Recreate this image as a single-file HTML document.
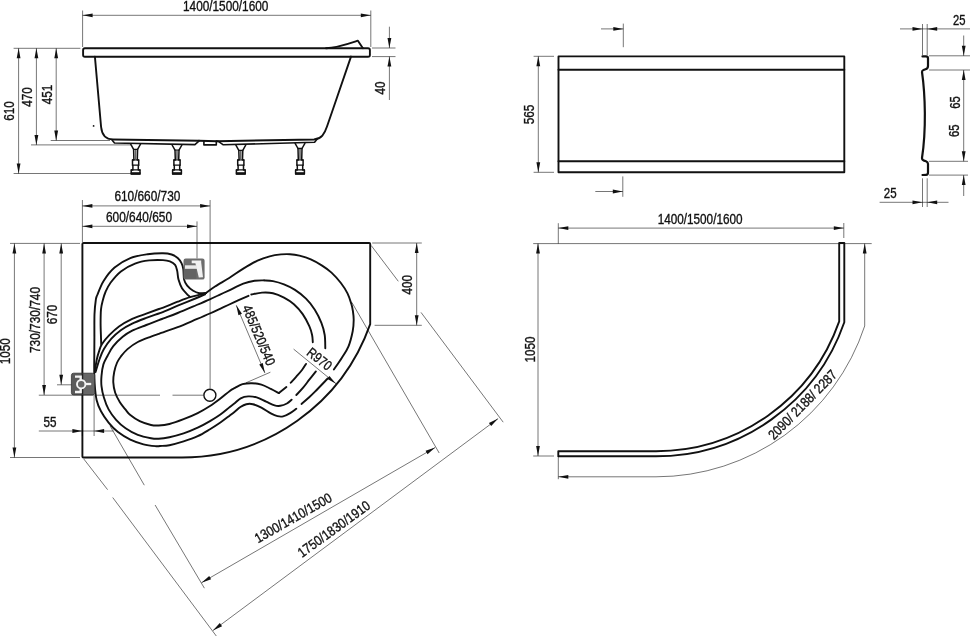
<!DOCTYPE html>
<html><head><meta charset="utf-8"><title>Bath drawing</title>
<style>
html,body{margin:0;padding:0;background:#fff;}
body{width:970px;height:636px;overflow:hidden;}
svg{display:block;filter:grayscale(1);font-family:"Liberation Sans",sans-serif;fill:#111;}
</style></head><body>
<svg width="970" height="636" viewBox="0 0 970 636">
<rect x="0" y="0" width="970" height="636" fill="#fff"/>
<line x1="82.60" y1="10.50" x2="82.60" y2="47.00" stroke="#000" stroke-opacity="0.68" stroke-width="0.8" fill="none"/>
<line x1="370.80" y1="10.50" x2="370.80" y2="47.00" stroke="#000" stroke-opacity="0.68" stroke-width="0.8" fill="none"/>
<line x1="82.60" y1="15.30" x2="370.80" y2="15.30" stroke="#000" stroke-opacity="0.68" stroke-width="0.8" fill="none"/>
<polygon points="82.60,15.30 92.60,13.40 92.60,17.20" fill="#111"/>
<polygon points="370.80,15.30 360.80,17.20 360.80,13.40" fill="#111"/>
<text x="183.00" y="10.90" font-size="13.9" stroke="#111" stroke-width="0.35" text-anchor="start" textLength="85.4" lengthAdjust="spacingAndGlyphs">1400/1500/1600</text>
<line x1="13.60" y1="48.30" x2="80.40" y2="48.30" stroke="#000" stroke-opacity="0.68" stroke-width="0.8" fill="none"/>
<line x1="50.70" y1="140.50" x2="110.00" y2="140.50" stroke="#000" stroke-opacity="0.68" stroke-width="0.8" fill="none"/>
<line x1="31.00" y1="144.90" x2="131.00" y2="144.90" stroke="#000" stroke-opacity="0.68" stroke-width="0.8" fill="none"/>
<line x1="13.60" y1="173.50" x2="131.00" y2="173.50" stroke="#000" stroke-opacity="0.68" stroke-width="0.8" fill="none"/>
<line x1="18.60" y1="48.30" x2="18.60" y2="173.50" stroke="#000" stroke-opacity="0.68" stroke-width="0.8" fill="none"/>
<polygon points="18.60,48.30 20.50,58.30 16.70,58.30" fill="#111"/>
<polygon points="18.60,173.50 16.70,163.50 20.50,163.50" fill="#111"/>
<line x1="36.40" y1="48.30" x2="36.40" y2="144.90" stroke="#000" stroke-opacity="0.68" stroke-width="0.8" fill="none"/>
<polygon points="36.40,48.30 38.30,58.30 34.50,58.30" fill="#111"/>
<polygon points="36.40,144.90 34.50,134.90 38.30,134.90" fill="#111"/>
<line x1="56.20" y1="48.30" x2="56.20" y2="140.50" stroke="#000" stroke-opacity="0.68" stroke-width="0.8" fill="none"/>
<polygon points="56.20,48.30 58.10,58.30 54.30,58.30" fill="#111"/>
<polygon points="56.20,140.50 54.30,130.50 58.10,130.50" fill="#111"/>
<text x="14.30" y="111.00" font-size="13.9" stroke="#111" stroke-width="0.35" text-anchor="middle" textLength="19.5" lengthAdjust="spacingAndGlyphs" transform="rotate(-90.00 14.30 111.00)">610</text>
<text x="32.00" y="97.00" font-size="13.9" stroke="#111" stroke-width="0.35" text-anchor="middle" textLength="19.5" lengthAdjust="spacingAndGlyphs" transform="rotate(-90.00 32.00 97.00)">470</text>
<text x="52.30" y="94.50" font-size="13.9" stroke="#111" stroke-width="0.35" text-anchor="middle" textLength="19.5" lengthAdjust="spacingAndGlyphs" transform="rotate(-90.00 52.30 94.50)">451</text>
<line x1="372.00" y1="48.00" x2="395.50" y2="48.00" stroke="#000" stroke-opacity="0.68" stroke-width="0.8" fill="none"/>
<line x1="372.00" y1="56.60" x2="395.50" y2="56.60" stroke="#000" stroke-opacity="0.68" stroke-width="0.8" fill="none"/>
<line x1="389.40" y1="26.70" x2="389.40" y2="48.00" stroke="#000" stroke-opacity="0.68" stroke-width="0.8" fill="none"/>
<polygon points="389.40,48.00 387.50,38.00 391.30,38.00" fill="#111"/>
<line x1="389.40" y1="56.60" x2="389.40" y2="100.00" stroke="#000" stroke-opacity="0.68" stroke-width="0.8" fill="none"/>
<polygon points="389.40,56.60 391.30,66.60 387.50,66.60" fill="#111"/>
<text x="384.80" y="88.00" font-size="13.9" stroke="#111" stroke-width="0.35" text-anchor="middle" textLength="13.0" lengthAdjust="spacingAndGlyphs" transform="rotate(-90.00 384.80 88.00)">40</text>
<path d="M84.9 48.2 L326 48.2 C336 48.2 345 45 357.9 40.7 L362.9 48.2 L368 48.2 Q369.9 48.2 369.9 50 L369.9 54.9 Q369.9 56.7 368 56.7 L84.9 56.7 Q83.1 56.7 83.1 54.9 L83.1 50 Q83.1 48.2 84.9 48.2 Z" stroke="#111" stroke-width="1.9" fill="none" stroke-linecap="round" stroke-linejoin="round" />
<path d="M326 48.2 L362.9 48.2" stroke="#111" stroke-width="1.9" fill="none" stroke-linecap="round" stroke-linejoin="round" />
<path d="M94.9 56.6 L101.1 127 C101.8 134 105 139.3 113 139.5 L199 140.7" stroke="#111" stroke-width="1.9" fill="none" stroke-linecap="round" stroke-linejoin="round" />
<path d="M351 56.6 L332.7 110 L327 126.5 C324.5 134 321.5 138.8 314 139.5 L217.2 141.2" stroke="#111" stroke-width="1.9" fill="none" stroke-linecap="round" stroke-linejoin="round" />
<path d="M199 140.7 L217.2 141.2" stroke="#111" stroke-width="1.9" fill="none" stroke-linecap="round" stroke-linejoin="round" />
<path d="M112.2 140.2 L114.5 143 L194.9 144.6 L198.6 141.3" stroke="#111" stroke-width="1.6" fill="none" stroke-linecap="round" stroke-linejoin="round" />
<path d="M218.4 141.4 L223.3 144.8 L314.6 142.2 L317.2 139" stroke="#111" stroke-width="1.6" fill="none" stroke-linecap="round" stroke-linejoin="round" />
<path d="M203.9 141 V144.9 H216.3 V141" stroke="#111" stroke-width="1.6" fill="none" stroke-linecap="round" stroke-linejoin="round" />
<circle cx="93.6" cy="125.9" r="0.9" fill="#111"/>
<path d="M130.7 144.2 L133.6 149.4 L133.9 159.9 L132.5 159.9 L132.5 165.2 L132.9 165.2 L132.9 169.9 L131.2 169.9 L131.2 174.0 L140.0 174.0 L140.0 169.9 L138.3 169.9 L138.3 165.2 L138.7 165.2 L138.7 159.9 L137.3 159.9 L137.6 149.4 L140.5 144.2" stroke="#111" stroke-width="1.5" fill="none" stroke-linecap="round" stroke-linejoin="round" />
<path d="M133.6 149.4 H137.6 M132.5 159.9 H138.7 M132.5 165.2 H138.7 M131.2 169.9 H140.0" stroke="#111" stroke-width="1.3" fill="none" stroke-linecap="round" stroke-linejoin="round" />
<line x1="135.6" y1="150.0" x2="135.6" y2="159.5" stroke="#666" stroke-width="1.6"/>
<rect x="130.7" y="172.2" width="9.8" height="2.4" fill="#111"/>
<path d="M172.1 145.0 L175.0 150.2 L175.3 159.9 L173.9 159.9 L173.9 165.2 L174.3 165.2 L174.3 169.9 L172.6 169.9 L172.6 174.0 L181.4 174.0 L181.4 169.9 L179.7 169.9 L179.7 165.2 L180.1 165.2 L180.1 159.9 L178.7 159.9 L179.0 150.2 L181.9 145.0" stroke="#111" stroke-width="1.5" fill="none" stroke-linecap="round" stroke-linejoin="round" />
<path d="M175.0 150.2 H179.0 M173.9 159.9 H180.1 M173.9 165.2 H180.1 M172.6 169.9 H181.4" stroke="#111" stroke-width="1.3" fill="none" stroke-linecap="round" stroke-linejoin="round" />
<line x1="177.0" y1="150.8" x2="177.0" y2="159.5" stroke="#666" stroke-width="1.6"/>
<rect x="172.1" y="172.2" width="9.8" height="2.4" fill="#111"/>
<path d="M235.9 145.2 L238.8 150.4 L239.1 159.9 L237.7 159.9 L237.7 165.2 L238.1 165.2 L238.1 169.9 L236.4 169.9 L236.4 174.0 L245.2 174.0 L245.2 169.9 L243.5 169.9 L243.5 165.2 L243.9 165.2 L243.9 159.9 L242.5 159.9 L242.8 150.4 L245.7 145.2" stroke="#111" stroke-width="1.5" fill="none" stroke-linecap="round" stroke-linejoin="round" />
<path d="M238.8 150.4 H242.8 M237.7 159.9 H243.9 M237.7 165.2 H243.9 M236.4 169.9 H245.2" stroke="#111" stroke-width="1.3" fill="none" stroke-linecap="round" stroke-linejoin="round" />
<line x1="240.8" y1="151.0" x2="240.8" y2="159.5" stroke="#666" stroke-width="1.6"/>
<rect x="235.9" y="172.2" width="9.8" height="2.4" fill="#111"/>
<path d="M295.1 143.3 L298.0 148.5 L298.3 159.9 L296.9 159.9 L296.9 165.2 L297.3 165.2 L297.3 169.9 L295.6 169.9 L295.6 174.0 L304.4 174.0 L304.4 169.9 L302.7 169.9 L302.7 165.2 L303.1 165.2 L303.1 159.9 L301.7 159.9 L302.0 148.5 L304.9 143.3" stroke="#111" stroke-width="1.5" fill="none" stroke-linecap="round" stroke-linejoin="round" />
<path d="M298.0 148.5 H302.0 M296.9 159.9 H303.1 M296.9 165.2 H303.1 M295.6 169.9 H304.4" stroke="#111" stroke-width="1.3" fill="none" stroke-linecap="round" stroke-linejoin="round" />
<line x1="300.0" y1="149.1" x2="300.0" y2="159.5" stroke="#666" stroke-width="1.6"/>
<rect x="295.1" y="172.2" width="9.8" height="2.4" fill="#111"/>
<path d="M558.5 56.4 H844.3 V172.3 H558.5 Z" stroke="#111" stroke-width="1.9" fill="none" stroke-linecap="round" stroke-linejoin="round" />
<path d="M558.5 69.8 H844.3 M558.5 161.3 H844.3" stroke="#111" stroke-width="1.9" fill="none" stroke-linecap="round" stroke-linejoin="round" />
<line x1="533.60" y1="56.30" x2="554.00" y2="56.30" stroke="#000" stroke-opacity="0.68" stroke-width="0.8" fill="none"/>
<line x1="533.60" y1="172.30" x2="554.00" y2="172.30" stroke="#000" stroke-opacity="0.68" stroke-width="0.8" fill="none"/>
<line x1="538.30" y1="56.30" x2="538.30" y2="172.30" stroke="#000" stroke-opacity="0.68" stroke-width="0.8" fill="none"/>
<polygon points="538.30,56.30 540.20,66.30 536.40,66.30" fill="#111"/>
<polygon points="538.30,172.30 536.40,162.30 540.20,162.30" fill="#111"/>
<text x="534.20" y="114.50" font-size="13.9" stroke="#111" stroke-width="0.35" text-anchor="middle" textLength="19.5" lengthAdjust="spacingAndGlyphs" transform="rotate(-90.00 534.20 114.50)">565</text>
<line x1="623.30" y1="23.60" x2="623.30" y2="47.20" stroke="#000" stroke-opacity="0.68" stroke-width="0.8" fill="none"/>
<line x1="601.00" y1="28.90" x2="623.30" y2="28.90" stroke="#000" stroke-opacity="0.68" stroke-width="0.8" fill="none"/>
<polygon points="623.30,28.90 613.30,30.80 613.30,27.00" fill="#111"/>
<line x1="622.80" y1="176.40" x2="622.80" y2="196.80" stroke="#000" stroke-opacity="0.68" stroke-width="0.8" fill="none"/>
<line x1="595.30" y1="191.50" x2="622.80" y2="191.50" stroke="#000" stroke-opacity="0.68" stroke-width="0.8" fill="none"/>
<polygon points="622.80,191.50 612.80,193.40 612.80,189.60" fill="#111"/>
<path d="M922.5 56.4 H926 Q928 56.4 928 58.4 V66 Q928 68.5 925.5 69.3 L923.5 70 Q922 70.5 922 72 C925.3 95 926.3 130 922 158 Q922 160 924 160.6 L926 161.3 Q928 162 928 164 V172.5 Q928 174.8 926 174.9 L922.5 175" stroke="#111" stroke-width="2.2" fill="none" stroke-linecap="round" stroke-linejoin="round" />
<line x1="922.50" y1="24.00" x2="922.50" y2="55.00" stroke="#000" stroke-opacity="0.68" stroke-width="0.8" fill="none"/>
<line x1="927.20" y1="24.00" x2="927.20" y2="55.00" stroke="#000" stroke-opacity="0.68" stroke-width="0.8" fill="none"/>
<line x1="900.00" y1="28.90" x2="970.00" y2="28.90" stroke="#000" stroke-opacity="0.68" stroke-width="0.8" fill="none"/>
<polygon points="922.50,28.90 912.50,30.80 912.50,27.00" fill="#111"/>
<polygon points="927.20,28.90 937.20,27.00 937.20,30.80" fill="#111"/>
<text x="953.00" y="24.70" font-size="13.9" stroke="#111" stroke-width="0.35" text-anchor="start" textLength="12.5" lengthAdjust="spacingAndGlyphs">25</text>
<line x1="929.00" y1="55.80" x2="970.00" y2="55.80" stroke="#000" stroke-opacity="0.68" stroke-width="0.8" fill="none"/>
<line x1="929.00" y1="70.00" x2="970.00" y2="70.00" stroke="#000" stroke-opacity="0.68" stroke-width="0.8" fill="none"/>
<line x1="929.00" y1="161.30" x2="968.00" y2="161.30" stroke="#000" stroke-opacity="0.68" stroke-width="0.8" fill="none"/>
<line x1="929.00" y1="175.10" x2="968.00" y2="175.10" stroke="#000" stroke-opacity="0.68" stroke-width="0.8" fill="none"/>
<line x1="963.70" y1="35.50" x2="963.70" y2="55.80" stroke="#000" stroke-opacity="0.68" stroke-width="0.8" fill="none"/>
<polygon points="963.70,55.80 961.80,45.80 965.60,45.80" fill="#111"/>
<line x1="963.70" y1="70.00" x2="963.70" y2="161.30" stroke="#000" stroke-opacity="0.68" stroke-width="0.8" fill="none"/>
<polygon points="963.70,70.00 965.60,80.00 961.80,80.00" fill="#111"/>
<polygon points="963.70,161.30 961.80,151.30 965.60,151.30" fill="#111"/>
<line x1="963.70" y1="175.10" x2="963.70" y2="196.00" stroke="#000" stroke-opacity="0.68" stroke-width="0.8" fill="none"/>
<polygon points="963.70,175.10 965.60,185.10 961.80,185.10" fill="#111"/>
<text x="959.50" y="102.50" font-size="13.9" stroke="#111" stroke-width="0.35" text-anchor="middle" textLength="12.5" lengthAdjust="spacingAndGlyphs" transform="rotate(-90.00 959.50 102.50)">65</text>
<text x="959.50" y="130.80" font-size="13.9" stroke="#111" stroke-width="0.35" text-anchor="middle" textLength="12.5" lengthAdjust="spacingAndGlyphs" transform="rotate(-90.00 959.50 130.80)">65</text>
<line x1="922.50" y1="178.30" x2="922.50" y2="207.00" stroke="#000" stroke-opacity="0.68" stroke-width="0.8" fill="none"/>
<line x1="927.20" y1="178.30" x2="927.20" y2="207.00" stroke="#000" stroke-opacity="0.68" stroke-width="0.8" fill="none"/>
<line x1="879.60" y1="202.30" x2="948.50" y2="202.30" stroke="#000" stroke-opacity="0.68" stroke-width="0.8" fill="none"/>
<polygon points="922.50,202.30 912.50,204.20 912.50,200.40" fill="#111"/>
<polygon points="927.20,202.30 937.20,200.40 937.20,204.20" fill="#111"/>
<text x="883.80" y="198.10" font-size="13.9" stroke="#111" stroke-width="0.35" text-anchor="start" textLength="12.8" lengthAdjust="spacingAndGlyphs">25</text>
<line x1="533.20" y1="243.60" x2="871.70" y2="243.60" stroke="#000" stroke-opacity="0.68" stroke-width="0.8" fill="none"/>
<line x1="558.30" y1="223.20" x2="558.30" y2="243.60" stroke="#000" stroke-opacity="0.68" stroke-width="0.8" fill="none"/>
<line x1="843.80" y1="223.00" x2="843.80" y2="238.00" stroke="#000" stroke-opacity="0.68" stroke-width="0.8" fill="none"/>
<line x1="558.30" y1="228.10" x2="843.80" y2="228.10" stroke="#000" stroke-opacity="0.68" stroke-width="0.8" fill="none"/>
<polygon points="558.30,228.10 568.30,226.20 568.30,230.00" fill="#111"/>
<polygon points="843.80,228.10 833.80,230.00 833.80,226.20" fill="#111"/>
<text x="657.70" y="223.60" font-size="13.9" stroke="#111" stroke-width="0.35" text-anchor="start" textLength="84.8" lengthAdjust="spacingAndGlyphs">1400/1500/1600</text>
<line x1="538.00" y1="243.60" x2="538.00" y2="456.00" stroke="#000" stroke-opacity="0.68" stroke-width="0.8" fill="none"/>
<polygon points="538.00,243.60 539.90,253.60 536.10,253.60" fill="#111"/>
<polygon points="538.00,456.00 536.10,446.00 539.90,446.00" fill="#111"/>
<line x1="533.20" y1="456.00" x2="554.00" y2="456.00" stroke="#000" stroke-opacity="0.68" stroke-width="0.8" fill="none"/>
<text x="535.20" y="349.50" font-size="13.9" stroke="#111" stroke-width="0.35" text-anchor="middle" textLength="26.0" lengthAdjust="spacingAndGlyphs" transform="rotate(-90.00 535.20 349.50)">1050</text>
<path d="M839.2 243 L844.3 243 L844.3 322.30 A199.30 199.30 0 0 1 656.00 456.30 L558.3 456.30 L558.3 451.20 L656.00 451.20 A194.20 194.20 0 0 0 839.2 321.43 Z" stroke="#111" stroke-width="1.9" fill="none" stroke-linecap="round" stroke-linejoin="round" />
<path d="M864.7 243.6 L864.7 325.97 A219.80 219.80 0 0 1 656.00 476.80 L558.3 476.80" stroke="#000" stroke-opacity="0.68" stroke-width="0.8" fill="none"/>
<polygon points="864.70,243.60 866.60,253.60 862.80,253.60" fill="#111"/>
<polygon points="558.30,476.80 568.30,474.90 568.30,478.70" fill="#111"/>
<line x1="558.30" y1="456.00" x2="558.30" y2="479.20" stroke="#000" stroke-opacity="0.68" stroke-width="0.8" fill="none"/>
<text x="774.00" y="440.60" font-size="13.9" stroke="#111" stroke-width="0.35" text-anchor="start" textLength="91.1" lengthAdjust="spacingAndGlyphs" transform="rotate(-45.50 774.00 440.60)">2090/ 2188/ 2287</text>
<path d="M83.6 243 L369.2 243 Q370.2 243 370.2 244 L370.2 324.19 A199.50 199.50 0 0 1 182.00 457.5 L83.4 457.5 Q82.4 457.5 82.4 456.5 L82.4 244 Q82.4 243 83.6 243 Z" stroke="#111" stroke-width="1.9" fill="none" stroke-linecap="round" stroke-linejoin="round" />
<line x1="82.40" y1="200.00" x2="82.40" y2="242.00" stroke="#000" stroke-opacity="0.68" stroke-width="0.8" fill="none"/>
<line x1="210.10" y1="200.00" x2="210.10" y2="388.50" stroke="#000" stroke-opacity="0.68" stroke-width="0.8" fill="none"/>
<line x1="82.40" y1="205.90" x2="210.10" y2="205.90" stroke="#000" stroke-opacity="0.68" stroke-width="0.8" fill="none"/>
<polygon points="82.40,205.90 92.40,204.00 92.40,207.80" fill="#111"/>
<polygon points="210.10,205.90 200.10,207.80 200.10,204.00" fill="#111"/>
<line x1="197.00" y1="221.40" x2="197.00" y2="258.50" stroke="#000" stroke-opacity="0.68" stroke-width="0.8" fill="none"/>
<line x1="82.40" y1="226.30" x2="197.00" y2="226.30" stroke="#000" stroke-opacity="0.68" stroke-width="0.8" fill="none"/>
<polygon points="82.40,226.30 92.40,224.40 92.40,228.20" fill="#111"/>
<polygon points="197.00,226.30 187.00,228.20 187.00,224.40" fill="#111"/>
<text x="114.40" y="200.90" font-size="13.9" stroke="#111" stroke-width="0.35" text-anchor="start" textLength="66.0" lengthAdjust="spacingAndGlyphs">610/660/730</text>
<text x="106.00" y="222.00" font-size="13.9" stroke="#111" stroke-width="0.35" text-anchor="start" textLength="66.0" lengthAdjust="spacingAndGlyphs">600/640/650</text>
<line x1="10.00" y1="243.40" x2="80.00" y2="243.40" stroke="#000" stroke-opacity="0.68" stroke-width="0.8" fill="none"/>
<line x1="10.00" y1="457.50" x2="80.00" y2="457.50" stroke="#000" stroke-opacity="0.68" stroke-width="0.8" fill="none"/>
<line x1="14.40" y1="243.40" x2="14.40" y2="457.50" stroke="#000" stroke-opacity="0.68" stroke-width="0.8" fill="none"/>
<polygon points="14.40,243.40 16.30,253.40 12.50,253.40" fill="#111"/>
<polygon points="14.40,457.50 12.50,447.50 16.30,447.50" fill="#111"/>
<line x1="44.10" y1="243.40" x2="44.10" y2="395.00" stroke="#000" stroke-opacity="0.68" stroke-width="0.8" fill="none"/>
<polygon points="44.10,243.40 46.00,253.40 42.20,253.40" fill="#111"/>
<polygon points="44.10,395.00 42.20,385.00 46.00,385.00" fill="#111"/>
<line x1="61.20" y1="243.40" x2="61.20" y2="384.80" stroke="#000" stroke-opacity="0.68" stroke-width="0.8" fill="none"/>
<polygon points="61.20,243.40 63.10,253.40 59.30,253.40" fill="#111"/>
<polygon points="61.20,384.80 59.30,374.80 63.10,374.80" fill="#111"/>
<line x1="38.80" y1="395.20" x2="160.00" y2="395.20" stroke="#000" stroke-opacity="0.68" stroke-width="0.8" fill="none"/>
<line x1="172.50" y1="395.20" x2="203.50" y2="395.20" stroke="#000" stroke-opacity="0.68" stroke-width="0.8" fill="none"/>
<line x1="57.00" y1="384.80" x2="72.00" y2="384.80" stroke="#000" stroke-opacity="0.68" stroke-width="0.8" fill="none"/>
<text x="10.40" y="351.30" font-size="13.9" stroke="#111" stroke-width="0.35" text-anchor="middle" textLength="26.0" lengthAdjust="spacingAndGlyphs" transform="rotate(-90.00 10.40 351.30)">1050</text>
<text x="39.60" y="320.00" font-size="13.9" stroke="#111" stroke-width="0.35" text-anchor="middle" textLength="66.0" lengthAdjust="spacingAndGlyphs" transform="rotate(-90.00 39.60 320.00)">730/730/740</text>
<text x="57.00" y="314.60" font-size="13.9" stroke="#111" stroke-width="0.35" text-anchor="middle" textLength="19.5" lengthAdjust="spacingAndGlyphs" transform="rotate(-90.00 57.00 314.60)">670</text>
<line x1="38.80" y1="431.00" x2="113.60" y2="431.00" stroke="#000" stroke-opacity="0.68" stroke-width="0.8" fill="none"/>
<line x1="94.10" y1="396.00" x2="94.10" y2="436.00" stroke="#000" stroke-opacity="0.68" stroke-width="0.8" fill="none"/>
<line x1="82.40" y1="430.00" x2="82.40" y2="436.00" stroke="#000" stroke-opacity="0.68" stroke-width="0.8" fill="none"/>
<polygon points="82.40,431.00 72.40,432.90 72.40,429.10" fill="#111"/>
<polygon points="94.10,431.00 104.10,429.10 104.10,432.90" fill="#111"/>
<text x="43.60" y="426.80" font-size="13.9" stroke="#111" stroke-width="0.35" text-anchor="start" textLength="13.0" lengthAdjust="spacingAndGlyphs">55</text>
<line x1="372.20" y1="243.00" x2="421.80" y2="243.00" stroke="#000" stroke-opacity="0.68" stroke-width="0.8" fill="none"/>
<line x1="374.60" y1="325.30" x2="421.80" y2="325.30" stroke="#000" stroke-opacity="0.68" stroke-width="0.8" fill="none"/>
<line x1="416.70" y1="243.00" x2="416.70" y2="325.30" stroke="#000" stroke-opacity="0.68" stroke-width="0.8" fill="none"/>
<polygon points="416.70,243.00 418.60,253.00 414.80,253.00" fill="#111"/>
<polygon points="416.70,325.30 414.80,315.30 418.60,315.30" fill="#111"/>
<text x="411.60" y="284.80" font-size="13.9" stroke="#111" stroke-width="0.35" text-anchor="middle" textLength="19.5" lengthAdjust="spacingAndGlyphs" transform="rotate(-90.00 411.60 284.80)">400</text>
<line x1="371.20" y1="245.50" x2="398.30" y2="281.30" stroke="#000" stroke-opacity="0.68" stroke-width="0.8" fill="none"/>
<line x1="421.00" y1="312.40" x2="503.20" y2="422.20" stroke="#000" stroke-opacity="0.68" stroke-width="0.8" fill="none"/>
<line x1="351.80" y1="302.30" x2="439.20" y2="453.00" stroke="#000" stroke-opacity="0.68" stroke-width="0.8" fill="none"/>
<line x1="83.80" y1="459.00" x2="107.60" y2="489.70" stroke="#000" stroke-opacity="0.68" stroke-width="0.8" fill="none"/>
<line x1="112.70" y1="497.50" x2="216.30" y2="636.00" stroke="#000" stroke-opacity="0.68" stroke-width="0.8" fill="none"/>
<line x1="110.00" y1="425.80" x2="144.30" y2="485.20" stroke="#000" stroke-opacity="0.68" stroke-width="0.8" fill="none"/>
<line x1="155.10" y1="505.00" x2="204.40" y2="588.20" stroke="#000" stroke-opacity="0.68" stroke-width="0.8" fill="none"/>
<line x1="201.50" y1="582.70" x2="435.20" y2="447.50" stroke="#000" stroke-opacity="0.68" stroke-width="0.8" fill="none"/>
<polygon points="201.50,582.70 209.20,576.05 211.11,579.34" fill="#111"/>
<polygon points="435.20,447.50 427.50,454.15 425.59,450.86" fill="#111"/>
<line x1="212.90" y1="630.60" x2="498.10" y2="418.60" stroke="#000" stroke-opacity="0.68" stroke-width="0.8" fill="none"/>
<polygon points="212.90,630.60 219.80,623.11 222.06,626.16" fill="#111"/>
<polygon points="498.10,418.60 491.20,426.09 488.94,423.04" fill="#111"/>
<text x="257.90" y="543.40" font-size="13.9" stroke="#111" stroke-width="0.35" text-anchor="start" textLength="86.5" lengthAdjust="spacingAndGlyphs" transform="rotate(-29.60 257.90 543.40)">1300/1410/1500</text>
<text x="302.00" y="558.00" font-size="13.9" stroke="#111" stroke-width="0.35" text-anchor="start" textLength="85.8" lengthAdjust="spacingAndGlyphs" transform="rotate(-36.00 302.00 558.00)">1750/1830/1910</text>
<path d="M206.00 293.00 C207.50 291.92 211.13 289.00 215.00 286.50 C218.87 284.00 224.48 280.98 229.20 278.00 C233.92 275.02 238.58 271.50 243.30 268.60 C248.02 265.70 253.10 262.65 257.50 260.60 C261.90 258.55 265.78 257.33 269.70 256.30 C273.62 255.27 277.62 254.75 281.00 254.40 C284.38 254.05 286.93 253.98 290.00 254.20 C293.07 254.42 295.93 254.83 299.40 255.70 C302.87 256.57 307.02 257.75 310.80 259.40 C314.58 261.05 318.65 263.40 322.10 265.60 C325.55 267.80 328.37 269.70 331.50 272.60 C334.63 275.50 338.23 279.53 340.90 283.00 C343.57 286.47 345.77 289.93 347.50 293.40 C349.23 296.87 350.40 300.87 351.30 303.80 C352.20 306.73 352.50 308.30 352.90 311.00 C353.30 313.70 353.73 316.62 353.70 320.00 C353.67 323.38 353.57 326.90 352.70 331.30 C351.83 335.70 350.30 342.00 348.50 346.40 C346.70 350.80 344.33 353.85 341.90 357.70 C339.47 361.55 335.23 367.53 333.90 369.50" stroke="#111" stroke-width="1.9" fill="none" stroke-linecap="round" stroke-linejoin="round" />
<path d="M327.70 378.50 C325.58 380.70 318.18 388.48 315.00 391.70 C311.82 394.92 310.85 395.75 308.60 397.80 C306.35 399.85 302.68 402.97 301.50 404.00" stroke="#111" stroke-width="1.9" fill="none" stroke-linecap="round" stroke-linejoin="round" />
<path d="M296.30 408.70 C295.20 409.48 291.90 412.12 289.70 413.40 C287.50 414.68 285.13 415.93 283.10 416.40 C281.07 416.87 279.55 416.70 277.50 416.20 C275.45 415.70 273.48 414.82 270.80 413.40 C268.12 411.98 264.38 409.23 261.40 407.70 C258.42 406.17 255.42 404.78 252.90 404.20 C250.38 403.62 248.38 403.73 246.30 404.20 C244.22 404.67 242.28 405.78 240.40 407.00 C238.52 408.22 236.77 410.08 235.00 411.50 C233.23 412.92 232.23 413.67 229.80 415.50 C227.37 417.33 223.70 420.22 220.40 422.50 C217.10 424.78 213.78 426.92 210.00 429.20 C206.22 431.48 202.10 434.17 197.70 436.20 C193.30 438.23 188.32 439.90 183.60 441.40 C178.88 442.90 173.33 444.43 169.40 445.20 C165.47 445.97 162.27 445.83 160.00 446.00 C157.73 446.17 158.55 446.48 155.80 446.20 C153.05 445.92 147.75 445.40 143.50 444.30 C139.25 443.20 134.55 441.63 130.30 439.60 C126.05 437.57 121.62 434.93 118.00 432.10 C114.38 429.27 111.43 426.07 108.60 422.60 C105.77 419.13 103.00 415.07 101.00 411.30 C99.00 407.53 97.67 404.67 96.60 400.00 C95.53 395.33 95.00 388.43 94.60 383.30 C94.20 378.17 94.25 373.92 94.20 369.20 C94.15 364.48 94.27 360.25 94.30 355.00 C94.33 349.75 94.37 344.50 94.40 337.70 C94.43 330.90 94.27 320.48 94.50 314.20 C94.73 307.92 95.33 303.20 95.80 300.00 C96.27 296.80 96.00 298.18 97.30 295.00 C98.60 291.82 100.72 285.48 103.60 280.90 C106.48 276.32 110.15 271.30 114.60 267.50 C119.05 263.70 124.80 260.32 130.30 258.10 C135.80 255.88 142.15 255.02 147.60 254.20 C153.05 253.38 159.00 253.15 163.00 253.20 C167.00 253.25 169.15 253.70 171.60 254.50 C174.05 255.30 176.05 256.55 177.70 258.00 C179.35 259.45 180.57 261.33 181.50 263.20 C182.43 265.07 182.87 266.47 183.30 269.20 C183.73 271.93 183.45 276.87 184.10 279.60 C184.75 282.33 185.68 283.73 187.20 285.60 C188.72 287.47 191.18 289.53 193.20 290.80 C195.22 292.07 197.17 292.83 199.30 293.20 C201.43 293.57 204.88 293.03 206.00 293.00" stroke="#111" stroke-width="1.9" fill="none" stroke-linecap="round" stroke-linejoin="round" />
<path d="M206.6 292.3 L203 293 L201 294.8 L205 294.6 Z" fill="#111"/>
<path d="M101.20 344.30 C101.17 343.20 101.10 341.15 101.00 337.70 C100.90 334.25 100.60 328.32 100.60 323.60 C100.60 318.88 100.62 313.33 101.00 309.40 C101.38 305.47 102.15 302.90 102.90 300.00 C103.65 297.10 104.20 294.92 105.50 292.00 C106.80 289.08 108.13 285.93 110.70 282.50 C113.27 279.07 116.85 274.55 120.90 271.40 C124.95 268.25 130.28 265.43 135.00 263.60 C139.72 261.77 144.53 260.98 149.20 260.40 C153.87 259.82 159.55 259.93 163.00 260.10 C166.45 260.27 167.88 260.60 169.90 261.40 C171.92 262.20 173.88 263.32 175.10 264.90 C176.32 266.48 176.63 268.45 177.20 270.90 C177.77 273.35 177.70 276.72 178.50 279.60 C179.30 282.48 180.42 285.62 182.00 288.20 C183.58 290.78 186.62 293.63 188.00 295.10 C189.38 296.57 189.92 296.68 190.30 297.00" stroke="#111" stroke-width="1.9" fill="none" stroke-linecap="round" stroke-linejoin="round" />
<path d="M206.00 293.00 C205.07 293.27 203.07 293.90 200.40 294.60 C197.73 295.30 193.78 296.02 190.00 297.20 C186.22 298.38 181.87 300.10 177.70 301.70 C173.53 303.30 168.13 305.58 165.00 306.80 C161.87 308.02 162.02 307.85 158.90 309.00 C155.78 310.15 151.07 311.90 146.30 313.70 C141.53 315.50 134.85 317.68 130.30 319.80 C125.75 321.92 122.47 323.88 119.00 326.40 C115.53 328.92 112.33 331.98 109.50 334.90 C106.67 337.82 103.72 341.23 102.00 343.90 C100.28 346.57 100.03 348.47 99.20 350.90 C98.37 353.33 97.70 355.32 97.00 358.50 C96.30 361.68 95.33 368.08 95.00 370.00" stroke="#111" stroke-width="1.9" fill="none" stroke-linecap="round" stroke-linejoin="round" />
<path d="M205.10 294.30 C203.68 294.92 201.17 296.10 196.60 298.00 C192.03 299.90 182.97 303.50 177.70 305.70 C172.43 307.90 168.13 309.90 165.00 311.20 C161.87 312.50 162.02 312.38 158.90 313.50 C155.78 314.62 150.75 316.22 146.30 317.90 C141.85 319.58 136.45 321.55 132.20 323.60 C127.95 325.65 124.27 327.68 120.80 330.20 C117.33 332.72 114.22 335.55 111.40 338.70 C108.58 341.85 105.87 345.72 103.90 349.10 C101.93 352.48 100.98 355.18 99.60 359.00 C98.22 362.82 96.27 369.83 95.60 372.00" stroke="#111" stroke-width="1.9" fill="none" stroke-linecap="round" stroke-linejoin="round" />
<path d="M264.10 280.40 C262.52 280.47 258.07 280.25 254.60 280.80 C251.13 281.35 247.53 282.12 243.30 283.70 C239.07 285.28 233.08 288.48 229.20 290.30 C225.32 292.12 223.23 293.10 220.00 294.60 C216.77 296.10 213.70 297.57 209.80 299.30 C205.90 301.03 201.95 302.72 196.60 305.00 C191.25 307.28 182.97 310.85 177.70 313.00 C172.43 315.15 168.13 316.72 165.00 317.90 C161.87 319.08 162.02 318.92 158.90 320.10 C155.78 321.28 150.75 323.23 146.30 325.00 C141.85 326.77 136.13 328.73 132.20 330.70 C128.27 332.67 125.85 334.22 122.70 336.80 C119.55 339.38 115.82 343.05 113.30 346.20 C110.78 349.35 109.25 352.67 107.60 355.70 C105.95 358.73 104.42 361.05 103.40 364.40 C102.38 367.75 101.82 372.18 101.50 375.80 C101.18 379.42 101.10 382.48 101.50 386.10 C101.90 389.72 102.72 393.62 103.90 397.50 C105.08 401.38 106.57 405.68 108.60 409.40 C110.63 413.12 113.27 416.65 116.10 419.80 C118.93 422.95 121.98 425.78 125.60 428.30 C129.22 430.82 133.57 433.25 137.80 434.90 C142.03 436.55 147.53 437.57 151.00 438.20 C154.47 438.83 155.53 438.87 158.60 438.70 C161.67 438.53 165.23 438.08 169.40 437.20 C173.57 436.32 178.88 434.98 183.60 433.40 C188.32 431.82 193.30 429.75 197.70 427.70 C202.10 425.65 206.22 423.30 210.00 421.10 C213.78 418.90 217.10 416.85 220.40 414.50 C223.70 412.15 227.37 408.92 229.80 407.00 C232.23 405.08 233.18 404.45 235.00 403.00 C236.82 401.55 238.50 399.40 240.70 398.30 C242.90 397.20 245.53 396.55 248.20 396.40 C250.87 396.25 253.72 396.53 256.70 397.40 C259.68 398.27 263.12 400.27 266.10 401.60 C269.08 402.93 272.23 404.70 274.60 405.40 C276.97 406.10 278.25 406.12 280.30 405.80 C282.35 405.48 285.02 404.52 286.90 403.50 C288.78 402.48 290.82 400.33 291.60 399.70" stroke="#111" stroke-width="1.9" fill="none" stroke-linecap="round" stroke-linejoin="round" />
<path d="M296.30 395.00 C297.40 393.82 300.70 390.50 302.90 387.90 C305.10 385.30 307.33 382.15 309.50 379.40 C311.67 376.65 314.83 372.73 315.90 371.40" stroke="#111" stroke-width="1.9" fill="none" stroke-linecap="round" stroke-linejoin="round" />
<path d="M325.30 348.20 C325.20 346.00 325.35 339.22 324.70 335.00 C324.05 330.78 323.05 327.12 321.40 322.90 C319.75 318.68 317.37 313.73 314.80 309.70 C312.23 305.67 309.30 302.00 306.00 298.70 C302.70 295.40 298.67 292.28 295.00 289.90 C291.33 287.52 287.67 285.87 284.00 284.40 C280.33 282.93 276.32 281.77 273.00 281.10 C269.68 280.43 265.58 280.52 264.10 280.40" stroke="#111" stroke-width="1.9" fill="none" stroke-linecap="round" stroke-linejoin="round" />
<path d="M251.30 294.50 C253.08 294.18 258.38 292.82 262.00 292.60 C265.62 292.38 269.33 292.37 273.00 293.20 C276.67 294.03 280.52 295.77 284.00 297.60 C287.48 299.43 290.78 301.45 293.90 304.20 C297.02 306.95 300.13 310.43 302.70 314.10 C305.27 317.77 307.73 322.72 309.30 326.20 C310.87 329.68 311.52 332.33 312.10 335.00 C312.68 337.67 312.68 341.00 312.80 342.20" stroke="#111" stroke-width="1.9" fill="none" stroke-linecap="round" stroke-linejoin="round" />
<path d="M248.50 295.80 C246.85 296.53 241.98 298.67 238.60 300.20 C235.22 301.73 231.30 303.57 228.20 305.00 C225.10 306.43 223.07 307.38 220.00 308.80 C216.93 310.22 213.70 311.77 209.80 313.50 C205.90 315.23 201.95 316.92 196.60 319.20 C191.25 321.48 182.97 325.13 177.70 327.20 C172.43 329.27 168.13 330.50 165.00 331.60 C161.87 332.70 161.23 332.97 158.90 333.80 C156.57 334.63 154.52 335.23 151.00 336.60 C147.48 337.97 141.72 339.92 137.80 342.00 C133.88 344.08 130.33 346.67 127.50 349.10 C124.67 351.53 122.53 354.37 120.80 356.60 C119.07 358.83 118.20 359.93 117.10 362.50 C116.00 365.07 114.83 368.68 114.20 372.00 C113.57 375.32 113.13 378.95 113.30 382.40 C113.47 385.85 114.10 389.40 115.20 392.70 C116.30 396.00 118.17 399.37 119.90 402.20 C121.63 405.03 123.87 407.55 125.60 409.70 C127.33 411.85 127.95 413.18 130.30 415.10 C132.65 417.02 136.25 419.55 139.70 421.20 C143.15 422.85 147.85 424.28 151.00 425.00 C154.15 425.72 155.53 425.67 158.60 425.50 C161.67 425.33 165.23 425.05 169.40 424.00 C173.57 422.95 178.88 421.02 183.60 419.20 C188.32 417.38 193.30 415.30 197.70 413.10 C202.10 410.90 206.22 408.43 210.00 406.00 C213.78 403.57 217.10 401.02 220.40 398.50 C223.70 395.98 227.37 392.67 229.80 390.90 C232.23 389.13 232.88 389.02 235.00 387.90 C237.12 386.78 239.67 384.98 242.50 384.20 C245.33 383.42 248.85 383.13 252.00 383.20 C255.15 383.27 258.27 383.65 261.40 384.60 C264.53 385.55 267.88 387.48 270.80 388.90 C273.72 390.32 277.55 392.40 278.90 393.10" stroke="#111" stroke-width="1.9" fill="none" stroke-linecap="round" stroke-linejoin="round" />
<path d="M278.9 393.1 L286.4 387" stroke="#111" stroke-width="1.9" fill="none" stroke-linecap="round" stroke-linejoin="round" />
<path d="M290.70 382.70 C291.63 381.68 294.42 378.72 296.30 376.60 C298.18 374.48 300.38 372.12 302.00 370.00 C303.62 367.88 305.33 364.92 306.00 363.90" stroke="#111" stroke-width="1.9" fill="none" stroke-linecap="round" stroke-linejoin="round" />
<circle cx="209.9" cy="395.2" r="6" fill="#fff" stroke="#111" stroke-width="1.4"/>
<line x1="236.30" y1="305.30" x2="264.90" y2="373.00" stroke="#000" stroke-opacity="0.68" stroke-width="0.8" fill="none"/>
<polygon points="236.30,305.30 241.94,313.77 238.44,315.25" fill="#111"/>
<polygon points="264.90,373.00 259.26,364.53 262.76,363.05" fill="#111"/>
<line x1="246.00" y1="382.80" x2="270.40" y2="372.20" stroke="#000" stroke-opacity="0.68" stroke-width="0.8" fill="none"/>
<text x="242.00" y="307.60" font-size="13.9" stroke="#111" stroke-width="0.35" text-anchor="start" textLength="64.0" lengthAdjust="spacingAndGlyphs" transform="rotate(67.10 242.00 307.60)">485/520/540</text>
<line x1="293.60" y1="349.10" x2="336.00" y2="383.70" stroke="#000" stroke-opacity="0.68" stroke-width="0.8" fill="none"/>
<polygon points="336.00,383.70 327.05,378.85 329.45,375.91" fill="#111"/>
<text x="305.80" y="354.20" font-size="13.9" stroke="#111" stroke-width="0.35" text-anchor="start" textLength="27.5" lengthAdjust="spacingAndGlyphs" transform="rotate(38.50 305.80 354.20)">R970</text>
<rect x="183.5" y="258.5" width="21.1" height="21.1" rx="2.2" fill="#6d6d6d"/>
<rect x="184.3" y="269" width="12" height="9.8" fill="#626262"/>
<path d="M191.7 260.6 H201.2 V262.6 L203 277.2 L198.8 277.6 L195.4 263.2 H191.7 Z" fill="#f1f1f1"/>
<rect x="185" y="265.3" width="12" height="3.5" fill="#e9e9e9"/>
<rect x="71.4" y="373.2" width="23.3" height="21.7" rx="2.2" fill="#5a5a5a" stroke="#333" stroke-width="0.8"/>
<rect x="83.2" y="374" width="10.8" height="20" fill="#666"/>
<rect x="81.6" y="373.5" width="1.6" height="21" fill="#222"/>
<path d="M75 376.6 H80.7 V380.6 M75 392 H80.7 V388" stroke="#f4f4f4" stroke-width="2.3" fill="none" stroke-linejoin="miter"/>
<path d="M85 384 H91.2" stroke="#f4f4f4" stroke-width="2.3" fill="none"/>
<circle cx="81.2" cy="384.2" r="4.2" fill="#666" stroke="#f4f4f4" stroke-width="1.9"/>
</svg>
</body></html>
